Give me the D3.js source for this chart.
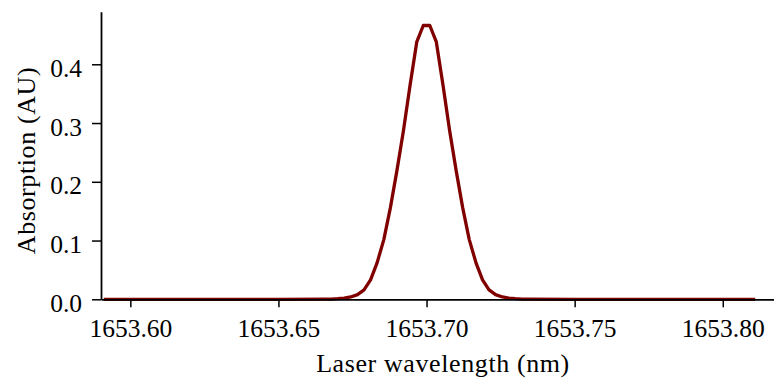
<!DOCTYPE html>
<html>
<head>
<meta charset="utf-8">
<script src="https://cdn.jsdelivr.net/npm/d3@7"></script>
<style>
  body { margin: 0; background: #fff; }
  svg text { font-family: "Liberation Serif", "DejaVu Serif", serif; fill: #000; }
  .tick text { font-size: 25.5px; }
  .axis-label { font-size: 26px; letter-spacing: 0.6px; }
</style>
</head>
<body>
<script>
// wavelength samples (nm); flat zero tails kept only at their ends
const wavelength = [
  1653.5916, 1653.6500, 1653.6656, 1653.6678, 1653.6700, 1653.6722, 1653.6744,
  1653.6767, 1653.6789, 1653.6811, 1653.6833, 1653.6856, 1653.6878, 1653.6900,
  1653.6922, 1653.6944, 1653.6967, 1653.6989, 1653.7011, 1653.7033, 1653.7056,
  1653.7078, 1653.7100, 1653.7122, 1653.7144, 1653.7167, 1653.7189, 1653.7211,
  1653.7233, 1653.7256, 1653.7278, 1653.7300, 1653.7322, 1653.7344, 1653.7500,
  1653.8104
];
const absorption = [
  0, 0, 0.0002, 0.0004, 0.001, 0.002, 0.004,
  0.008, 0.016, 0.033, 0.062, 0.102, 0.156, 0.219,
  0.287, 0.363, 0.438, 0.466, 0.466, 0.438, 0.363,
  0.287, 0.219, 0.156, 0.102, 0.062, 0.033, 0.016,
  0.008, 0.004, 0.002, 0.001, 0.0004, 0.0002, 0,
  0
];
const xTicks = [1653.60, 1653.65, 1653.70, 1653.75, 1653.80];
const yTicks = [0.0, 0.1, 0.2, 0.3, 0.4];

const width = 774, height = 383;
const plotLeft = 101, plotRight = 774, plotTop = 11.7, plotBottom = 299.3;

const svg = d3.select('body')
              .append('svg')
              .attr('width', width)
              .attr('height', height);

const xScale = d3.scaleLinear()
                 .domain([1653.5901, 1653.8173])
                 .range([plotLeft, plotRight]);

const yScale = d3.scaleLinear()
                 .domain([0, 0.4895])
                 .range([plotBottom, plotTop]);

const data = wavelength.map((w, i) => [w, absorption[i]]);

const line = d3.line()
               .x((d) => xScale(d[0]))
               .y((d) => yScale(d[1]));

svg.append('path')
  .datum(data)
  .attr('d', line)
  .attr('fill', 'none')
  .attr('stroke', '#800000')
  .attr('stroke-width', 3.3)
  .attr('stroke-linejoin', 'round')
  .attr('stroke-linecap', 'square');

const xAxis = d3.axisBottom(xScale)
  .tickValues(xTicks)
  .tickFormat(d3.format('.2f'))
  .tickSizeInner(8)
  .tickSizeOuter(0)
  .tickPadding(12);

const yAxis = d3.axisLeft(yScale)
  .tickValues(yTicks)
  .tickFormat(d3.format('.1f'))
  .tickSizeInner(9)
  .tickSizeOuter(0)
  .tickPadding(10);

const gx = svg.append('g')
  .attr('transform', 'translate(0, ' + plotBottom + ')')
  .call(xAxis);

const gy = svg.append('g')
  .attr('transform', 'translate(' + plotLeft + ', 0)')
  .call(yAxis);

[gx, gy].forEach((g) => {
  g.attr('font-family', null).attr('font-size', null);
  g.select('.domain').attr('stroke', '#000').attr('stroke-width', 1.8);
  g.selectAll('.tick line').attr('stroke', '#000').attr('stroke-width', 1.5);
});
gy.selectAll('.tick text').attr('dy', '0.47em');

svg.append('text')
  .attr('class', 'axis-label')
  .attr('x', 443)
  .attr('y', 371.7)
  .attr('text-anchor', 'middle')
  .text('Laser wavelength (nm)');

svg.append('text')
  .attr('class', 'axis-label')
  .attr('transform', 'rotate(-90)')
  .attr('x', -160.5)
  .attr('y', 35)
  .attr('text-anchor', 'middle')
  .text('Absorption (AU)');
</script>
</body>
</html>
